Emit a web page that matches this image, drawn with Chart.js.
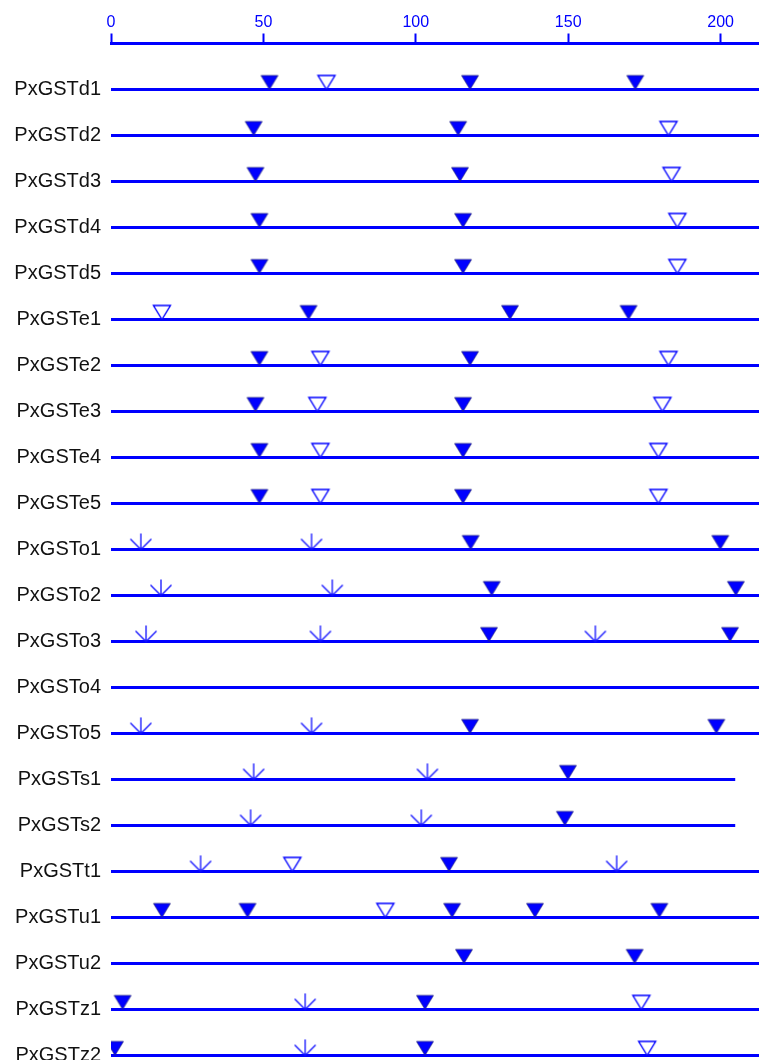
<!DOCTYPE html>
<html>
<head>
<meta charset="utf-8">
<script src="https://cdn.jsdelivr.net/npm/chart.js@4.4.1/dist/chart.umd.min.js"></script>
<style>
  html, body { margin: 0; padding: 0; background: #fff; }
  #wrap { width: 759px; height: 1060px; }
</style>
</head>
<body>
<div id="wrap"><canvas id="siteChart"></canvas></div>
<script>
/* ======= Data ======= */
const genes = [
    'PxGSTd1', 'PxGSTd2', 'PxGSTd3', 'PxGSTd4', 'PxGSTd5',
    'PxGSTe1', 'PxGSTe2', 'PxGSTe3', 'PxGSTe4', 'PxGSTe5',
    'PxGSTo1', 'PxGSTo2', 'PxGSTo3', 'PxGSTo4', 'PxGSTo5',
    'PxGSTs1', 'PxGSTs2', 'PxGSTt1', 'PxGSTu1', 'PxGSTu2',
    'PxGSTz1', 'PxGSTz2'
];

// length of each line (those running past the right edge are cut off there)
const geneLength = [
    215, 215, 215, 215, 215,
    215, 215, 215, 215, 215,
    215, 215, 215, 215, 215,
    204.8, 204.8, 215, 215, 215,
    215, 215
];

// filled triangles
const filledSites = [
    [52.0, 117.8, 172.0], [46.8, 113.9], [47.4, 114.5], [48.7, 115.5], [48.7, 115.5],
    [64.8, 130.9, 169.8], [48.7, 117.8], [47.4, 115.5], [48.7, 115.5], [48.7, 115.5],
    [118.0, 199.9], [124.9, 205.0], [124.0, 203.1], [], [117.8, 198.6],
    [149.9], [148.9], [110.9], [16.7, 44.8, 111.9, 139.1, 179.9], [115.8, 171.8],
    [3.8, 103.0], [1.3, 103.0]
];

// open triangles
const openSites = [
    [70.7], [182.9], [183.9], [185.8], [185.8],
    [16.7], [68.7, 182.9], [67.7, 180.9], [68.7, 179.6], [68.7, 179.6],
    [], [], [], [], [],
    [], [], [59.5], [90.0], [],
    [174.0], [175.9]
];

// arrow marks
const arrowSites = [
    [], [], [], [], [],
    [], [], [], [], [],
    [9.8, 65.8], [16.4, 72.6], [11.5, 68.7, 158.9], [], [9.8, 65.8],
    [46.8, 103.8], [45.8, 101.8], [29.4, 165.9], [], [],
    [63.7], [63.7]
];

const xTicks = [0, 50, 100, 150, 200];

const BLUE = '#0000ff';

/* ======= Marker images (tip sits at the image centre) ======= */
function makeMarker(kind) {
    const c = document.createElement('canvas');
    c.width = 26;
    c.height = 36;
    const g = c.getContext('2d');
    const cx = 13, cy = 18;
    if (kind === 'arrow') {
        g.strokeStyle = '#1010ff';
        g.lineWidth = 1.3;
        g.beginPath();
        g.moveTo(cx, cy);
        g.lineTo(cx, cy - 16);
        g.moveTo(cx - 10.5, cy - 10.5);
        g.lineTo(cx, cy);
        g.lineTo(cx + 10.5, cy - 10.5);
        g.stroke();
    } else {
        g.beginPath();
        g.moveTo(cx - 8.5, cy - 14);
        g.lineTo(cx + 8.5, cy - 14);
        g.lineTo(cx, cy);
        g.closePath();
        if (kind === 'filled') {
            g.fillStyle = BLUE;
            g.fill();
            g.strokeStyle = '#22227a';
            g.lineWidth = 0.7;
            g.stroke();
        } else {
            g.fillStyle = '#ffffff';
            g.fill();
            g.strokeStyle = BLUE;
            g.lineWidth = 1.4;
            g.stroke();
        }
    }
    return c;
}

const markers = {
    filled: makeMarker('filled'),
    open: makeMarker('open'),
    arrow: makeMarker('arrow')
};

/* ======= Datasets ======= */
const datasets = [];

genes.forEach(function (gene, i) {
    datasets.push({
        type: 'line',
        label: gene,
        data: [{ x: 0, y: i }, { x: geneLength[i], y: i }],
        borderColor: BLUE,
        borderWidth: 3,
        pointRadius: 0,
        fill: false,
        order: 2
    });
});

function siteDataset(name, sites, img) {
    const pts = [];
    sites.forEach(function (row, i) {
        row.forEach(function (v) {
            pts.push({ x: v, y: i });
        });
    });
    return {
        type: 'scatter',
        label: name,
        data: pts,
        pointStyle: img,
        pointRadius: 10,
        order: 1
    };
}

datasets.push(siteDataset('filled', filledSites, markers.filled));
datasets.push(siteDataset('open', openSites, markers.open));
datasets.push(siteDataset('arrow', arrowSites, markers.arrow));

/* ======= Chart ======= */
const ctx = document.getElementById('siteChart');
new Chart(ctx, {
    type: 'scatter',
    data: { datasets: datasets },
    options: {
        responsive: true,
        maintainAspectRatio: false,
        animation: false,
        events: [],
        layout: { padding: 0, autoPadding: false },
        plugins: {
            legend: { display: false },
            tooltip: { enabled: false }
        },
        scales: {
            x: {
                type: 'linear',
                position: 'top',
                min: 0,
                max: 212.6,
                afterFit(scale) {
                    scale.height = 43.5;
                    scale.paddingLeft = 0;
                    scale.paddingRight = 0;
                },
                afterBuildTicks(scale) {
                    scale.ticks = xTicks.map(v => ({ value: v }));
                },
                grid: {
                    drawOnChartArea: false,
                    drawTicks: true,
                    tickLength: 10,
                    tickColor: BLUE,
                    tickWidth: 2
                },
                border: {
                    display: true,
                    color: BLUE,
                    width: 3
                },
                ticks: {
                    color: BLUE,
                    padding: 1,
                    maxRotation: 0,
                    font: {
                        family: '"Liberation Sans", Arial, sans-serif',
                        size: 16
                    }
                }
            },
            y: {
                type: 'linear',
                reverse: true,
                min: -1,
                max: 21.1,
                afterFit(scale) {
                    scale.width = 111;
                    scale.paddingTop = 0;
                    scale.paddingBottom = 0;
                },
                afterBuildTicks(scale) {
                    scale.ticks = genes.map((g, i) => ({ value: i }));
                },
                grid: { display: false, drawTicks: false },
                border: { display: false },
                ticks: {
                    color: '#111111',
                    padding: 10,
                    autoSkip: false,
                    font: {
                        family: '"Liberation Sans", Arial, sans-serif',
                        size: 20
                    },
                    callback(value) {
                        return genes[value] || '';
                    }
                }
            }
        }
    }
});
</script>
</body>
</html>
